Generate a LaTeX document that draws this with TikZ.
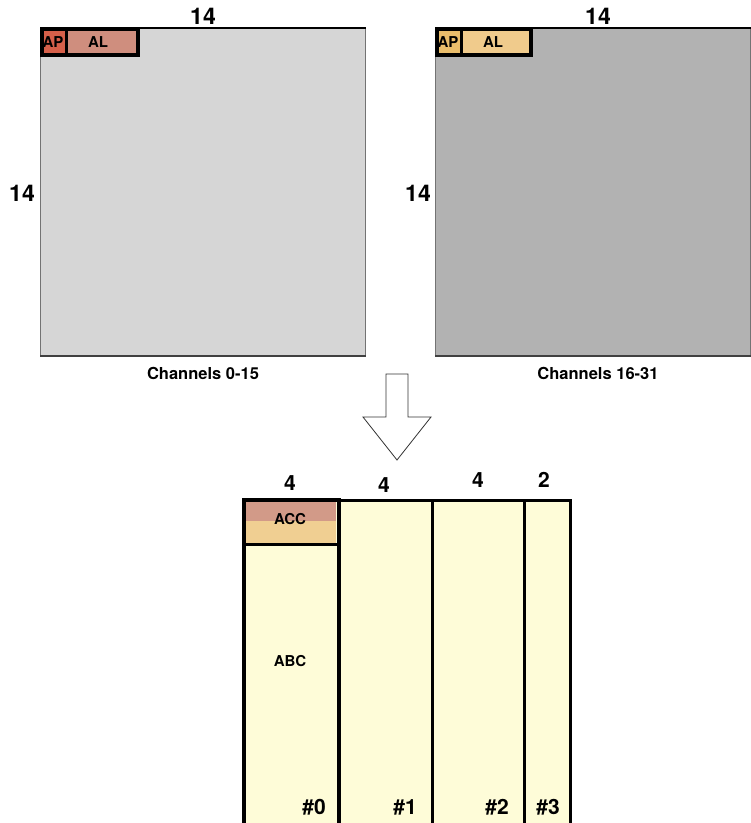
\documentclass[tikz,border=0pt]{standalone}
\usepackage{fontspec}
\setmainfont{TeX Gyre Heros}
\begin{document}
\begin{tikzpicture}[x=1pt,y=-1pt,
  lbl/.style={font=\bfseries\fontsize{23}{23}\selectfont, inner sep=0pt},
  wlbl/.style={font=\bfseries\fontsize{21}{21}\selectfont, inner sep=0pt},
  caption/.style={font=\bfseries\fontsize{16.5}{17}\selectfont, inner sep=0pt},
  inlbl/.style={font=\bfseries\fontsize{15}{15}\selectfont, inner sep=0pt},
  tag/.style={font=\bfseries\fontsize{15}{15}\selectfont, inner sep=0pt},
  idx/.style={font=\bfseries\fontsize{21}{21}\selectfont, inner sep=0pt},
  plane/.style={draw=black!55, line width=1.2pt, inner sep=0pt, anchor=north west},
  cell/.style={draw=black, line width=2.8pt, inner sep=0pt, anchor=north west},
  col/.style={draw=black, line width=2.5pt, fill=colfill, inner sep=0pt, anchor=north west}]
\definecolor{planeA}{HTML}{D6D6D6}
\definecolor{planeB}{HTML}{B2B2B2}
\definecolor{apA}{HTML}{D6604A}
\definecolor{alA}{HTML}{CF8E7E}
\definecolor{apB}{HTML}{E9BD6B}
\definecolor{alB}{HTML}{F0CB8C}
\definecolor{accTop}{HTML}{D29A88}
\definecolor{accBot}{HTML}{F0CF92}
\definecolor{colfill}{HTML}{FEFCD8}

\useasboundingbox (0,0) rectangle (751,823);
\clip (0,0) rectangle (751,823);

% input feature planes
\node[plane, fill=planeA, minimum width=325, minimum height=327] (pA) at (40,28) {};
\node[plane, fill=planeB, minimum width=315, minimum height=327] (pB) at (435,28) {};
\draw[line width=1.5pt] (pA.north west) -- (pA.north east);
\draw[line width=1.5pt] (pB.north west) -- (pB.north east);
\draw[black!75, line width=1.5pt] (pA.south west) -- (pA.south east);
\draw[black!75, line width=1.5pt] (pB.south west) -- (pB.south east);

% tiles in the corner of each plane
\node[cell, fill=apA, minimum width=25, minimum height=25] (apa) at (41,28) {};
\node[cell, fill=alA, minimum width=71, minimum height=25] (ala) at (65,28) {};
\node[cell, fill=apB, minimum width=24, minimum height=25] (apb) at (436,28) {};
\node[cell, fill=alB, minimum width=69, minimum height=25] (alb) at (460,28) {};
\draw[line width=2.8pt] (apa.north west) rectangle (ala.south east);
\draw[line width=2.8pt] (apb.north west) rectangle (alb.south east);
\node[tag] at (53,42) {AP};
\node[tag] at (98,42) {AL};
\node[tag] at (448,42) {AP};
\node[tag] at (493,42) {AL};

% plane dimensions
\node[lbl] (wA) at (203,16) {14};
\node[lbl] (hA) at (22,193) {14};
\node[lbl] (wB) at (598,16) {14};
\node[lbl] (hB) at (418,193) {14};

\node[caption] (cA) at (203,373) {Channels 0-15};
\node[caption] (cB) at (598,373) {Channels 16-31};

% transformation arrow
\draw[black!80, line width=0.8pt, fill=white]
  (386,374) -- (408,374) -- (408,417) -- (431,417) -- (397,460)
  -- (363,417) -- (386,417) -- cycle;

% output columns
\node[col, minimum width=94, minimum height=340] (c0) at (243,499) {};
\node[col, minimum width=94, minimum height=340] (c1) at (337,499) {};
\node[col, minimum width=92, minimum height=340] (c2) at (431,499) {};
\node[col, minimum width=46, minimum height=340] (c3) at (523,499) {};

% accumulator block in the first column
\fill[accTop] (244,500) rectangle (336,521);
\fill[accBot] (244,521) rectangle (336,543);
\node[col, fill=none, minimum width=94, minimum height=44] (acc) at (243,499) {};
\draw[line width=2.5pt] (c0.north west) rectangle (c0.south east);
\node[inlbl] at (290,519) {ACC};
\node[inlbl] at (290,661) {ABC};

% column widths
\node[wlbl] (w0) at (290,483) {4};
\node[wlbl] (w1) at (384,485) {4};
\node[wlbl] (w2) at (478,480) {4};
\node[wlbl] (w3) at (544,480) {2};

% column indices
\node[idx] (i0) at (314,807) {\#0};
\node[idx] (i1) at (405,807) {\#1};
\node[idx] (i2) at (497,807) {\#2};
\node[idx] (i3) at (548,807) {\#3};
\end{tikzpicture}
\end{document}
